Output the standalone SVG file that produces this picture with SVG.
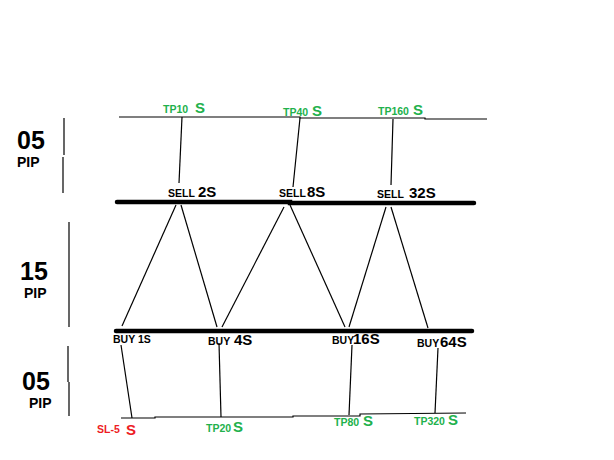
<svg xmlns="http://www.w3.org/2000/svg" width="614" height="460" viewBox="0 0 614 460">
<style>
.bg{fill:#fff}
.thin{stroke:#000;stroke-width:1.2;fill:none}
.thick{stroke:#000;stroke-width:4.5;fill:none;stroke-linecap:round}
text{font-family:"Liberation Sans",Arial,sans-serif;font-weight:bold}
.sm{font-size:10.5px;fill:#000}
.big{font-size:15px;fill:#000}
.gs{font-size:10.5px;fill:#22b14c}
.gb{font-size:15px;fill:#22b14c}
.rs{font-size:10.5px;fill:#ed1c24}
.rb{font-size:15px;fill:#ed1c24}
.pipn{font-size:25px;fill:#000}
.pip{font-size:14px;fill:#000}
</style>
<rect class="bg" x="0" y="0" width="614" height="460"/>
<g id="scale">
<line class="thin" x1="64" y1="118" x2="64" y2="155"/>
<line class="thin" x1="63" y1="157" x2="63" y2="193"/>
<line class="thin" x1="69" y1="222" x2="69" y2="327"/>
<line class="thin" x1="68" y1="346" x2="68" y2="382"/>
<line class="thin" x1="69" y1="382" x2="69" y2="416"/>
<text class="pipn" x="17" y="149">05</text>
<text class="pip" x="17" y="167">PIP</text>
<text class="pipn" x="20" y="280">15</text>
<text class="pip" x="24" y="298">PIP</text>
<text class="pipn" x="22" y="390">05</text>
<text class="pip" x="29" y="408">PIP</text>
</g>
<g id="levels">
<polyline class="thin" points="119,117 300,117 300,118 425,118 425,119 487,119"/>
<polyline class="thick" points="117,202 290,202 290,203 474,203"/>
<polyline class="thick" points="116,331 472,331"/>
<polyline class="thin" points="121,418 155,418 155,417 293,417 293,416 360,416 360,414 466,413"/>
</g>
<g id="connectors">
<line class="thin" x1="182" y1="117" x2="179" y2="183"/>
<line class="thin" x1="300" y1="118" x2="293" y2="187"/>
<line class="thin" x1="393" y1="119" x2="391" y2="185"/>
<polyline class="thin" points="122,326 176,205"/>
<polyline class="thin" points="181,205 217,327"/>
<polyline class="thin" points="222,327 284,207"/>
<polyline class="thin" points="290,205 345,327"/>
<polyline class="thin" points="349,327 386,207"/>
<polyline class="thin" points="391,207 428,328"/>
<line class="thin" x1="121" y1="345" x2="132" y2="418"/>
<line class="thin" x1="219" y1="343" x2="221" y2="417"/>
<line class="thin" x1="352" y1="345" x2="349" y2="415"/>
<line class="thin" x1="438" y1="348" x2="435" y2="413"/>
</g>
<g id="tp10"><text class="gs" x="163" y="113">TP10</text><text class="gb" x="195" y="113">S</text></g>
<g id="tp40"><text class="gs" x="283" y="116">TP40</text><text class="gb" x="312" y="116">S</text></g>
<g id="tp160"><text class="gs" x="378" y="115">TP160</text><text class="gb" x="413" y="115">S</text></g>
<g id="sell2"><text class="sm" x="168" y="197">SELL</text><text class="big" x="198" y="197">2S</text></g>
<g id="sell8"><text class="sm" x="279" y="197">SELL</text><text class="big" x="307" y="197">8S</text></g>
<g id="sell32"><text class="sm" x="377" y="198">SELL</text><text class="big" x="409" y="198">32S</text></g>
<g id="buy1"><text class="sm" x="113" y="343">BUY 1S</text></g>
<g id="buy4"><text class="sm" x="208" y="345">BUY</text><text class="big" x="234" y="345">4S</text></g>
<g id="buy16"><text class="sm" x="332" y="344">BUY</text><text class="big" x="353" y="344">16S</text></g>
<g id="buy64"><text class="sm" x="417" y="347">BUY</text><text class="big" x="440" y="347">64S</text></g>
<g id="sl5"><text class="rs" x="97" y="433">SL-5</text><text class="rb" x="126" y="435">S</text></g>
<g id="tp20"><text class="gs" x="206" y="432">TP20</text><text class="gb" x="233" y="432">S</text></g>
<g id="tp80"><text class="gs" x="334" y="426">TP80</text><text class="gb" x="363" y="426">S</text></g>
<g id="tp320"><text class="gs" x="414" y="425">TP320</text><text class="gb" x="448" y="425">S</text></g>
</svg>
